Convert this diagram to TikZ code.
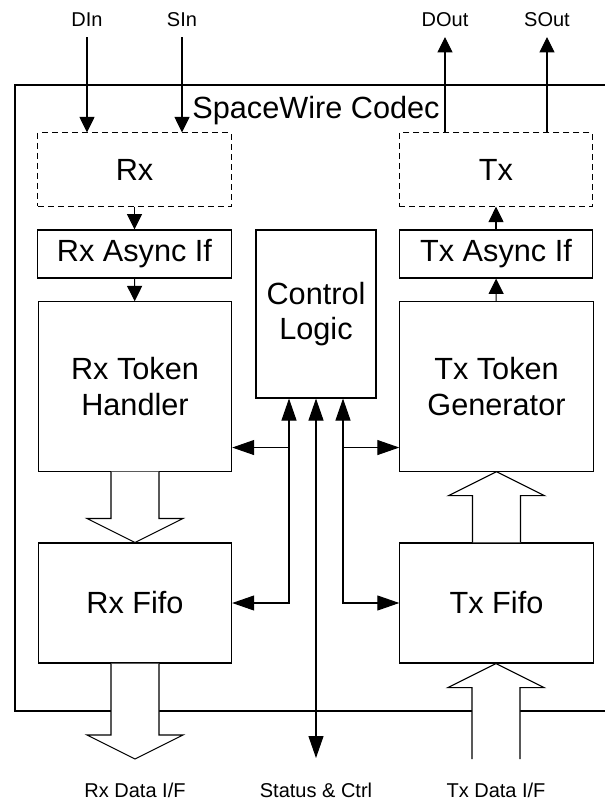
\documentclass[tikz,border=0pt]{standalone}
\usepackage{fontspec}
\setmainfont{Liberation Sans}
\usetikzlibrary{arrows.meta,positioning,calc}

% hollow block arrow between two points on one vertical
\newcommand{\fatarrow}[2]{%
  \filldraw[fill=white, line width=0.8pt] let \p1=(#1), \p2=(#2), \n1={ifthenelse(\y2>\y1,1,-1)} in
    (\x1-18pt,\y1) -- (\x1-18pt,\y2-\n1*18pt) -- (\x1-36pt,\y2-\n1*18pt) -- (\x1,\y2)
    -- (\x1+36pt,\y2-\n1*18pt) -- (\x1+18pt,\y2-\n1*18pt) -- (\x1+18pt,\y1);
}

\begin{document}
\begin{tikzpicture}[
    x=0.75pt, y=-0.75pt,
    line width=0.8pt,
    box/.style={rectangle, draw, minimum width=145pt, align=center, font=\fontsize{23}{26.5}\selectfont},
    phy/.style={box, dashed, dash pattern=on 4.5pt off 3pt, minimum height=55pt},
    asyncbox/.style={box, minimum height=36pt},
    tokbox/.style={box, minimum height=127pt},
    fifobox/.style={box, minimum height=90pt},
    sig/.style={font=\fontsize{15}{18}\selectfont},
    arrow/.style={-{Triangle[width=11.25pt,length=11.5pt]}},
    ctlarrow/.style={-{Triangle[width=11.25pt,length=16.5pt]}},
    biarrow/.style={{Triangle[width=11.25pt,length=16.5pt]}-{Triangle[width=11.25pt,length=16.5pt]}}
]
    \useasboundingbox (0,0) rectangle (605,800);

    % Codec frame
    \draw (605,85) -- (15,85) -- (15,711) -- (605,711);
    \node[font=\fontsize{23}{26.5}\selectfont] (codec) at (316,111) {SpaceWire Codec};

    % Line interface
    \node[phy] (rx) at (134.5,169.5) {Rx};
    \node[phy] (tx) at (496,169.5) {Tx};
    \node[asyncbox] (rxasync) at (134.5,254) {Rx Async If};
    \node[asyncbox] (txasync) at (496,254) {Tx Async If};

    % Token layer
    \node[tokbox] (rxtok) at (135,386.5) {Rx Token\\Handler};
    \node[tokbox] (txtok) at (496.5,386.5) {Tx Token\\Generator};
    \node[box, minimum width=90pt, minimum height=126pt] (ctrl) at (316,314) {Control\\Logic};

    % Fifos
    \node[fifobox] (rxfifo) at (135,603) {Rx Fifo};
    \node[fifobox] (txfifo) at (496.5,603) {Tx Fifo};

    % Outside signals
    \node[sig] (din) at (87,20) {DIn};
    \node[sig] (sin) at (182,20) {SIn};
    \node[sig] (dout) at (445,20) {DOut};
    \node[sig] (sout) at (547,20) {SOut};
    \node[sig] (rxdata) at (135,790) {Rx Data I/F};
    \node[sig] (status) at (316,790) {Status \& Ctrl};
    \node[sig] (txdata) at (496,790) {Tx Data I/F};

    \coordinate (rxdataend) at (135,759);
    \coordinate (txdataend) at (496,759);
    \coordinate (statusend) at (316,758);
    \coordinate (lbranch) at ($(ctrl.south)+(-27,49)$);
    \coordinate (rbranch) at ($(ctrl.south)+(27,49)$);

    % Arrows
    \draw[arrow] (din.south |- 0,37) -- (din.south |- rx.north);
    \draw[arrow] (sin.south |- 0,37) -- (sin.south |- rx.north);
    \draw[arrow] (dout.south |- tx.north) -- (dout.south |- 0,37);
    \draw[arrow] (sout.south |- tx.north) -- (sout.south |- 0,37);
    \draw[arrow] (rx) -- (rxasync);
    \draw[arrow] (rxasync) -- (rxtok);
    \draw[arrow] (txasync) -- (tx);
    \draw[arrow] (txtok) -- (txasync);

    % Control paths
    \draw[biarrow] ($(ctrl.south)+(-27,0)$) |- (rxfifo.east);
    \draw[biarrow] ($(ctrl.south)+(27,0)$) |- (txfifo.west);
    \draw[ctlarrow] (lbranch) -- (lbranch -| rxtok.east);
    \draw[ctlarrow] (rbranch) -- (rbranch -| txtok.west);
    \draw[biarrow] (ctrl.south) -- (statusend);

    % Data paths
    \fatarrow{rxtok.south}{rxfifo.north}
    \fatarrow{rxfifo.south}{rxdataend}
    \fatarrow{txfifo.north}{txtok.south}
    \fatarrow{txdataend}{txfifo.south}
\end{tikzpicture}
\end{document}
